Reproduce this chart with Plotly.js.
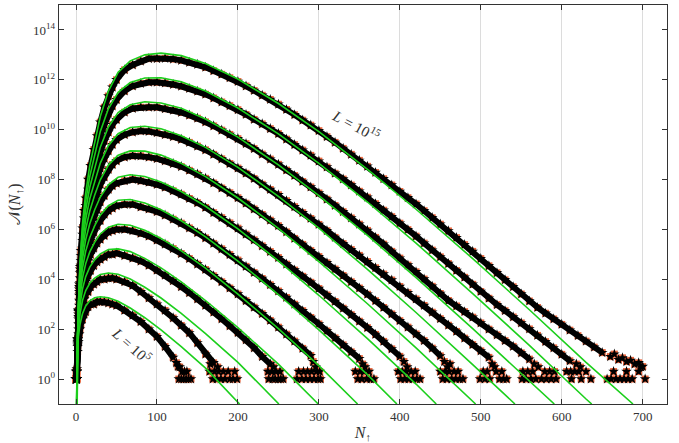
<!DOCTYPE html>
<html><head><meta charset="utf-8">
<script src="https://cdn.plot.ly/plotly-3.0.1.min.js"></script>
<style>html,body{margin:0;padding:0;background:#fff}#plot{width:679px;height:443px}</style>
</head><body><div id="plot"></div>
<script>
// L = 10^exp for each curve
const EXPONENTS = [5,6,7,8,9,10,11,12,13,14,15];

// Theory (green) curves: shared N grid, log10 values per curve, and x where each reaches 10^-1
const THEORY_N = [0.15,1,2,3,5,8,12,17,23,30,40,52,67,85,105,130,160,200,250,300,360,420,490,560,630];
const THEORY_END = [202,250.6,299.2,347.8,396.4,445,493.6,542.2,590.8,637,688];
const theory5  = [-1.56,0.54,1.28,1.70,2.20,2.62,2.93,3.14,3.26,3.30,3.26,3.12,2.85,2.46,1.97,1.30,0.44,-1];
const theory6  = [-2.02,0.57,1.47,1.99,2.62,3.15,3.55,3.84,4.05,4.19,4.25,4.20,4.01,3.68,3.25,2.63,1.82,0.67,-1];
const theory7  = [-2.54,0.54,1.61,2.23,2.98,3.61,4.11,4.49,4.78,5.02,5.19,5.22,5.11,4.84,4.46,3.90,3.15,2.06,0.60,-1];
const theory8  = [-3.10,0.47,1.71,2.42,3.30,4.05,4.63,5.10,5.48,5.82,6.09,6.21,6.17,5.97,5.64,5.14,4.45,3.41,2.02,0.54,-1];
const theory9  = [-3.69,0.38,1.78,2.59,3.59,4.45,5.13,5.68,6.14,6.57,6.95,7.17,7.20,7.06,6.79,6.35,5.70,4.73,3.39,1.97,0.18,-1];
const theory10 = [-4.31,0.25,1.81,2.72,3.84,4.81,5.59,6.23,6.78,7.30,7.79,8.09,8.19,8.12,7.90,7.52,6.93,6.02,4.74,3.36,1.62,-0.20,-1];
const theory11 = [-4.97,0.08,1.81,2.81,4.06,5.14,6.01,6.74,7.37,7.99,8.58,8.98,9.15,9.14,8.98,8.65,8.12,7.26,6.04,4.71,3.02,1.25,-0.89,-1];
const theory12 = [-5.65,-0.10,1.78,2.89,4.26,5.45,6.41,7.23,7.94,8.66,9.36,9.84,10.09,10.14,10.04,9.76,9.29,8.49,7.33,6.05,4.40,2.67,0.58,-1];
const theory13 = [-6.36,-0.32,1.74,2.94,4.44,5.73,6.79,7.69,8.49,9.30,10.11,10.69,11.00,11.12,11.07,10.86,10.43,9.70,8.59,7.36,5.76,4.07,2.02,-0.10,-1];
const theory14 = [-7.09,-0.56,1.66,2.96,4.59,5.99,7.14,8.13,9.02,9.93,10.84,11.50,11.89,12.07,12.08,11.92,11.55,10.87,9.83,8.65,7.10,5.45,3.43,1.35,-0.80,-1];
const theory15 = [-7.83,-0.81,1.57,2.97,4.72,6.24,7.47,8.56,9.53,10.53,11.55,12.30,12.76,13.00,13.07,12.97,12.65,12.03,11.05,9.92,8.41,6.81,4.83,2.78,0.67,-1];

// Simulation data (log10 of counts) on a shared N grid: dense band part
const DATA_N = [0,1,2,3,4,5,6,8,10,12,15,18,22,26,30,35,40,45,50,60,70,80,90,100,110,120,130,140,150,160,170,180,190,200,210,220,230,240,250,260,270,280,290,300,310,320,330,340,350,360,370,380,390,400,410,420,430,440,450,460,470,480,490,500,510,520,530,540,550,560,570,580,590,600,610,620,630,640,650,660,670,680,690,700];
const band5  = [0,0.3,1.1,1.5,1.8,2.0,2.2,2.4,2.6,2.7,2.9,3.0,3.0,3.1,3.1,3.1,3.05,3.0,2.95,2.75,2.55,2.3,2.0,1.7,1.3,0.87];
const band6  = [0,0.4,1.3,1.8,2.2,2.4,2.6,3.0,3.2,3.4,3.5,3.7,3.8,3.9,4.0,4.0,4.05,4.05,4.0,3.9,3.75,3.5,3.25,3.0,2.75,2.45,2.15,1.85,1.45,1.0,0.65];
const band7  = [0,0.3,1.4,2.0,2.45,2.8,3.0,3.4,3.7,3.9,4.15,4.35,4.55,4.7,4.8,4.9,5.0,5.0,5.05,4.95,4.85,4.73,4.56,4.36,4.16,3.94,3.70,3.46,3.21,2.95,2.68,2.41,2.13,1.86,1.57,1.25,0.9,0.6];
const band8  = [0.3,0.3,1.5,2.2,2.75,3.1,3.4,3.85,4.2,4.45,4.75,5.0,5.25,5.45,5.6,5.75,5.9,5.95,6.0,6.0,5.95,5.84,5.73,5.57,5.41,5.23,5.03,4.83,4.61,4.39,4.14,3.90,3.65,3.41,3.14,2.88,2.62,2.35,2.08,1.80,1.52,1.23,0.94];
const band9  = [0,0.3,1.6,2.4,2.95,3.4,3.75,4.25,4.65,4.95,5.3,5.55,5.9,6.15,6.35,6.6,6.75,6.85,6.95,7.0,7.0,6.9,6.82,6.71,6.57,6.41,6.25,6.06,5.87,5.66,5.44,5.22,4.99,4.77,4.52,4.27,4.03,3.78,3.53,3.27,3.00,2.74,2.47,2.21,1.93,1.65,1.37,1.09,0.82];
const band10 = [0,0,1.6,2.5,3.15,3.65,4.0,4.6,5.05,5.4,5.8,6.15,6.5,6.8,7.1,7.35,7.6,7.75,7.85,7.95,8.0,7.95,7.89,7.80,7.69,7.55,7.41,7.24,7.07,6.88,6.67,6.47,6.26,6.05,5.81,5.58,5.34,5.11,4.87,4.61,4.37,4.12,3.88,3.63,3.37,3.11,2.84,2.58,2.32,2.06,1.79,1.51,1.21,0.91];
const band11 = [0,0,1.6,2.6,3.35,3.85,4.3,4.95,5.45,5.8,6.3,6.65,7.1,7.45,7.8,8.1,8.4,8.6,8.75,8.9,8.95,8.95,8.9,8.84,8.75,8.64,8.52,8.37,8.22,8.05,7.86,7.66,7.47,7.27,7.05,6.82,6.60,6.37,6.15,5.90,5.64,5.40,5.15,4.91,4.66,4.41,4.15,3.90,3.65,3.40,3.14,2.87,2.61,2.34,2.08,1.81,1.54,1.24,0.93];
const band12 = [0,0,1.6,2.7,3.5,4.05,4.55,5.25,5.8,6.2,6.75,7.15,7.65,8.05,8.45,8.85,9.15,9.4,9.6,9.8,9.9,9.95,9.93,9.88,9.80,9.72,9.61,9.49,9.34,9.19,9.01,8.83,8.64,8.46,8.25,8.04,7.81,7.60,7.39,7.15,6.91,6.67,6.44,6.20,5.95,5.68,5.43,5.19,4.96,4.71,4.46,4.21,3.97,3.71,3.46,3.21,2.95,2.68,2.42,2.16,1.91,1.64,1.38,1.13,0.87];
const band13 = [0,0,1.55,2.75,3.6,4.25,4.75,5.55,6.15,6.6,7.2,7.65,8.2,8.65,9.1,9.55,9.9,10.2,10.4,10.7,10.85,10.9,10.9,10.9,10.84,10.78,10.69,10.58,10.46,10.31,10.15,9.98,9.81,9.64,9.44,9.24,9.02,8.82,8.61,8.38,8.16,7.92,7.70,7.46,7.21,6.96,6.71,6.46,6.21,5.96,5.68,5.41,5.12,4.85,4.57,4.30,4.01,3.72,3.43,3.15,2.93,2.70,2.48,2.25,2.00,1.77,1.54,1.31,1.05,0.80];
const band14 = [0,0,1.45,2.75,3.7,4.4,4.95,5.8,6.45,6.95,7.6,8.1,8.7,9.2,9.75,10.2,10.65,10.95,11.2,11.55,11.75,11.85,11.9,11.9,11.87,11.81,11.74,11.65,11.54,11.42,11.27,11.11,10.96,10.80,10.61,10.41,10.23,10.04,9.84,9.62,9.40,9.18,8.97,8.74,8.50,8.25,8.02,7.78,7.53,7.29,7.03,6.77,6.51,6.25,5.99,5.73,5.45,5.17,4.90,4.63,4.35,4.08,3.80,3.51,3.24,2.98,2.74,2.49,2.25,2.01,1.75,1.50,1.25,0.99,0.73];
const band15 = [0,0,1.35,2.75,3.8,4.5,5.15,6.05,6.75,7.25,8.0,8.55,9.2,9.75,10.3,10.9,11.35,11.7,12.0,12.4,12.6,12.75,12.85,12.85,12.86,12.83,12.78,12.70,12.62,12.50,12.36,12.22,12.08,11.93,11.75,11.57,11.38,11.21,11.02,10.81,10.60,10.38,10.18,9.96,9.72,9.49,9.25,9.01,8.77,8.53,8.28,8.03,7.78,7.52,7.27,7.02,6.75,6.47,6.21,5.94,5.67,5.39,5.12,4.83,4.54,4.26,3.98,3.70,3.41,3.13,2.87,2.64,2.41,2.19,1.96,1.74,1.52,1.28,1.06];

// Sparse tail points (N, log10 count)
const tailN5  = [124,126,128,127,130,133,136,139,142,131,134,137];
const tailV5  = [0.65,0.5,0.48,0,0,0,0,0,0,0.3,0.3,0.3];
const tailN6  = [166,175,165,171,176,182,188,196,169,174,179,184,190,194,199];
const tailV6  = [0.6,0.48,0.3,0.3,0.3,0.3,0.3,0.3,0,0,0,0,0,0,0];
const tailN7  = [244,237,242,247,252,238,243,246,250,253,256];
const tailV7  = [0.48,0.3,0.3,0.3,0.3,0,0,0,0,0,0];
const tailN8  = [293,296,275,281,286,291,297,301,273,279,284,289,294,299,302];
const tailV8  = [0.7,0.48,0.3,0.3,0.3,0.3,0.3,0.3,0,0,0,0,0,0,0];
const tailN9  = [354,357,345,351,356,362,348,353,359,364,368];
const tailV9  = [0.6,0.48,0.3,0.3,0.3,0.3,0,0,0,0,0];
const tailN10 = [405,409,398,403,408,414,419,401,406,411,416,421,425];
const tailV10 = [0.7,0.48,0.3,0.3,0.3,0.3,0.3,0,0,0,0,0,0];
const tailN11 = [455,459,462,450,456,461,467,472,453,458,464,469,474,478];
const tailV11 = [0.7,0.48,0.6,0.3,0.3,0.3,0.3,0.3,0,0,0,0,0,0];
const tailN12 = [514,517,503,508,519,526,499,505,511,523,528,532];
const tailV12 = [0.6,0.48,0.3,0.3,0.3,0.3,0,0,0,0,0,0];
const tailN13 = [566,571,552,558,564,579,585,591,551,556,562,568,575,581,587,593];
const tailV13 = [0.6,0.48,0.3,0.3,0.3,0.3,0.3,0.3,0,0,0,0,0,0,0,0];
const tailN14 = [618,623,606,611,616,621,630,612,624,636];
const tailV14 = [0.6,0.48,0.3,0.3,0.3,0.3,0.3,0,0,0];
const tailN15 = [660,665,670,675,680,685,690,695,700,656,661,667,672,677,682,687,703,664,680,695,698];
const tailV15 = [0.9,1.0,0.78,0.85,0.7,0.75,0.6,0.65,0.5,0,0,0,0,0,0,0,0,0.3,0.3,0.3,0.48];

const X_TICKS = [0,100,200,300,400,500,600,700];
const Y_TICK_EXP = [0,2,4,6,8,10,12,14];

const theories = [theory5,theory6,theory7,theory8,theory9,theory10,theory11,theory12,theory13,theory14,theory15];
const bands = [band5,band6,band7,band8,band9,band10,band11,band12,band13,band14,band15];
const tailsN = [tailN5,tailN6,tailN7,tailN8,tailN9,tailN10,tailN11,tailN12,tailN13,tailN14,tailN15];
const tailsV = [tailV5,tailV6,tailV7,tailV8,tailV9,tailV10,tailV11,tailV12,tailV13,tailV14,tailV15];

const pow10 = v => Math.pow(10, v);
const orangeTraces = [], lineTraces = [], starTraces = [], greenTraces = [];
EXPONENTS.forEach((e, k) => {
  const bx = DATA_N.slice(0, bands[k].length);
  const allX = bx.concat(tailsN[k]);
  const allY = bands[k].concat(tailsV[k]).map(pow10);
  orangeTraces.push({x: allX, y: allY, type:'scatter', mode:'markers', hoverinfo:'skip',
    marker:{symbol:'square', size:7, color:'#e8643c'}});
  lineTraces.push({x: bx, y: bands[k].map(pow10), type:'scatter', mode:'lines', hoverinfo:'skip',
    line:{color:'#000', width:6}});
  starTraces.push({x: allX, y: allY, type:'scatter', mode:'markers', hoverinfo:'skip',
    marker:{symbol:'star', size:8, color:'#000'}});
  const gx = THEORY_N.slice(0, theories[k].length - 1).concat([THEORY_END[k]]);
  greenTraces.push({x: gx, y: theories[k].map(pow10), type:'scatter', mode:'lines', hoverinfo:'skip',
    line:{color:'#1ccf1c', width:1.6}});
});

const layout = {
  width: 679, height: 443,
  margin: {l:59, r:12, t:5, b:39},
  paper_bgcolor:'#fff', plot_bgcolor:'#fff',
  showlegend:false,
  font:{family:'Liberation Serif, DejaVu Serif, serif', size:13, color:'#333'},
  xaxis:{range:[-21,730], tickmode:'array', tickvals:X_TICKS, ticktext:X_TICKS.map(String),
    ticks:'inside', ticklen:5, tickcolor:'#333', mirror:'ticks', showline:true, linecolor:'#333', linewidth:1.3,
    showgrid:true, gridcolor:'#dcdcdc', gridwidth:1, zeroline:false,
    title:{text:'<i>N</i><sub>↑</sub>', font:{size:16}, standoff:6}},
  yaxis:{type:'log', range:[-1,15], tickmode:'array',
    tickvals:Y_TICK_EXP.map(pow10), ticktext:Y_TICK_EXP.map(e => '10<sup>' + e + '</sup>'),
    ticks:'inside', ticklen:5, tickcolor:'#333', mirror:'ticks', showline:true, linecolor:'#333', linewidth:1.3,
    showgrid:false, zeroline:false,
    title:{text:'𝒩(<i>N</i><sub>↑</sub>)', font:{size:16}, standoff:8}},
  annotations:[
    {x:346, y:10.2, xref:'x', yref:'y', text:'<i>L</i> = 10<sup>15</sup>', showarrow:false, textangle:28,
      font:{size:15, color:'#333'}},
    {x:69, y:1.36, xref:'x', yref:'y', text:'<i>L</i> = 10<sup>5</sup>', showarrow:false, textangle:42,
      font:{size:15, color:'#333'}}
  ]
};

Plotly.newPlot('plot', orangeTraces.concat(lineTraces, starTraces, greenTraces), layout,
  {displayModeBar:false, staticPlot:true});
</script>
</body></html>
